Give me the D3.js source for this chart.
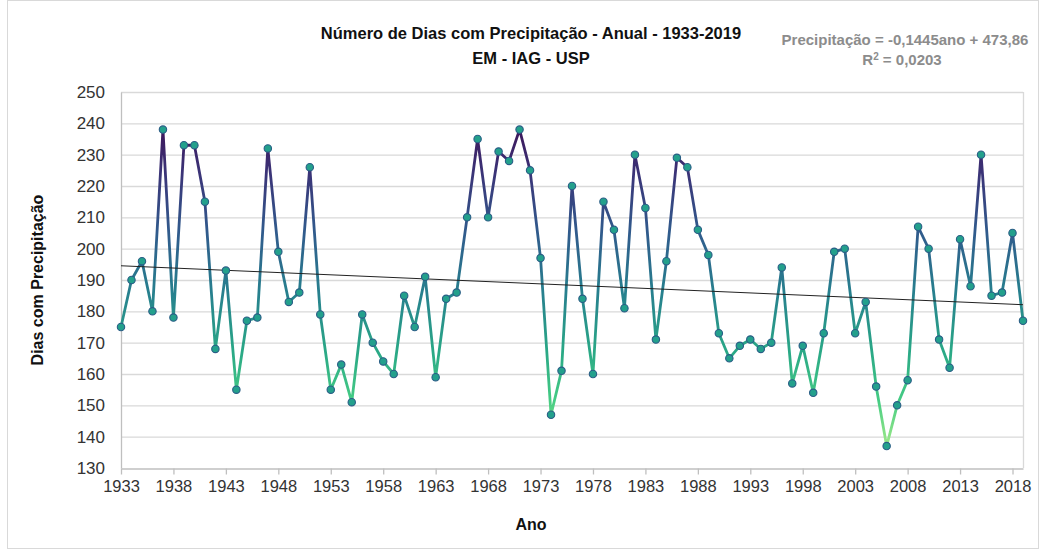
<!DOCTYPE html>
<html>
<head>
<meta charset="utf-8">
<script src="https://cdn.jsdelivr.net/npm/d3@7.9.0/dist/d3.min.js"></script>
<style>
  body { margin: 0; background: #fff; }
  svg { display: block; font-family: "Liberation Sans", Arial, sans-serif; }
</style>
</head>
<body>
<svg id="chart" width="1043" height="552"></svg>
<script>
// ---- data ----
const years = d3.range(1933, 2020);
const rainDays = [
  175, 190, 196, 180, 238, 178, 233, 233, 215, 168,
  193, 155, 177, 178, 232, 199, 183, 186, 226, 179,
  155, 163, 151, 179, 170, 164, 160, 185, 175, 191,
  159, 184, 186, 210, 235, 210, 231, 228, 238, 225,
  197, 147, 161, 220, 184, 160, 215, 206, 181, 230,
  213, 171, 196, 229, 226, 206, 198, 173, 165, 169,
  171, 168, 170, 194, 157, 169, 154, 173, 199, 200,
  173, 183, 156, 137, 150, 158, 207, 200, 171, 162,
  203, 188, 230, 185, 186, 205, 177
];
const xTickYears = [1933, 1938, 1943, 1948, 1953, 1958, 1963, 1968, 1973, 1978, 1983, 1988, 1993, 1998, 2003, 2008, 2013, 2018];
const yTickValues = [130, 140, 150, 160, 170, 180, 190, 200, 210, 220, 230, 240, 250];
// trend line given in the chart: y = -0.1445*ano + 473.86
const trendSlope = -0.1445;
const trendIntercept = 473.86;

const data = years.map((y, i) => ({ year: y, value: rainDays[i] }));

const svg = d3.select("#chart");
const margin = { left: 121, right: 20, top: 92, bottom: 84 };
const W = 1043, H = 552;

const x = d3.scaleLinear().domain([1933, 2019]).range([margin.left, W - margin.right]);
const y = d3.scaleLinear().domain([130, 250]).range([H - margin.bottom, margin.top]);

// chart outer border
svg.append("rect")
  .attr("x", 7.5).attr("y", 0.5)
  .attr("width", W - 12).attr("height", H - 4)
  .attr("fill", "none").attr("stroke", "#d9d9d9");

// gridlines
svg.append("g")
  .selectAll("line")
  .data(yTickValues.filter(v => v > 130))
  .join("line")
  .attr("x1", x(1933)).attr("x2", x(2019))
  .attr("y1", d => y(d) + 0.5).attr("y2", d => y(d) + 0.5)
  .attr("stroke", "#d9d9d9").attr("stroke-width", 1.3);

// right border of plot area
svg.append("line")
  .attr("x1", x(2019) + 0.5).attr("x2", x(2019) + 0.5)
  .attr("y1", y(250)).attr("y2", y(130))
  .attr("stroke", "#d9d9d9").attr("stroke-width", 1.3);

// y axis
const yAxis = svg.append("g")
  .attr("transform", `translate(${margin.left},0)`)
  .call(d3.axisLeft(y).tickValues(yTickValues).tickSize(0).tickPadding(16));
yAxis.select(".domain").attr("stroke", "#bfbfbf").attr("stroke-width", 1.3);
yAxis.selectAll("text").attr("font-size", 17).attr("fill", "#333");

// x axis
const xAxis = svg.append("g")
  .attr("transform", `translate(0,${y(130) + 0.5})`)
  .call(d3.axisBottom(x).tickValues(xTickYears).tickFormat(d3.format("d")).tickSize(6).tickPadding(6).tickSizeOuter(0));
xAxis.select(".domain").attr("stroke", "#bfbfbf").attr("stroke-width", 1.3);
xAxis.selectAll(".tick line").attr("stroke", "#bfbfbf").attr("stroke-width", 1.3);
xAxis.selectAll("text").attr("font-size", 16.5).attr("fill", "#333");

// gradient for the line (coloured by value)
const defs = svg.append("defs");
const grad = defs.append("linearGradient")
  .attr("id", "lineGrad")
  .attr("gradientUnits", "userSpaceOnUse")
  .attr("x1", 0).attr("x2", 0)
  .attr("y1", y(240)).attr("y2", y(136));
const stops = [
  [0.00, "#3d1357"],
  [0.15, "#3b3377"],
  [0.33, "#315a8c"],
  [0.52, "#27808e"],
  [0.70, "#2aa886"],
  [0.85, "#45cc84"],
  [1.00, "#a6ec88"]
];
grad.selectAll("stop").data(stops).join("stop")
  .attr("offset", d => d[0]).attr("stop-color", d => d[1]);

const line = d3.line().x(d => x(d.year)).y(d => y(d.value));

svg.append("path")
  .datum(data)
  .attr("d", line)
  .attr("fill", "none")
  .attr("stroke", "url(#lineGrad)")
  .attr("stroke-width", 2.8)
  .attr("stroke-linejoin", "round");

// trend line
svg.append("line")
  .attr("x1", x(1933)).attr("x2", x(2019))
  .attr("y1", y(trendSlope * 1933 + trendIntercept))
  .attr("y2", y(trendSlope * 2019 + trendIntercept))
  .attr("stroke", "#222").attr("stroke-width", 1);

// markers
svg.append("g")
  .selectAll("circle")
  .data(data)
  .join("circle")
  .attr("cx", d => x(d.year))
  .attr("cy", d => y(d.value))
  .attr("r", 3.7)
  .attr("fill", "#23a08c")
  .attr("stroke", "#2a5d86")
  .attr("stroke-width", 1.1);

// titles
svg.append("text")
  .attr("x", 531).attr("y", 39)
  .attr("text-anchor", "middle")
  .attr("font-size", 16.5).attr("font-weight", "bold").attr("fill", "#111")
  .text("Número de Dias com Precipitação - Anual - 1933-2019");
svg.append("text")
  .attr("x", 531).attr("y", 64)
  .attr("text-anchor", "middle")
  .attr("font-size", 16.5).attr("font-weight", "bold").attr("fill", "#111")
  .text("EM - IAG - USP");

// equation
svg.append("text")
  .attr("x", 905).attr("y", 45)
  .attr("text-anchor", "middle")
  .attr("font-size", 15).attr("font-weight", "bold").attr("fill", "#8c8c8c")
  .text("Precipitação = -0,1445ano + 473,86");
const r2 = svg.append("text")
  .attr("x", 902).attr("y", 65)
  .attr("text-anchor", "middle")
  .attr("font-size", 15).attr("font-weight", "bold").attr("fill", "#8c8c8c");
r2.append("tspan").text("R");
r2.append("tspan").attr("font-size", 10).attr("dy", -5).text("2");
r2.append("tspan").attr("dy", 5).text(" = 0,0203");

// axis titles
svg.append("text")
  .attr("x", 531).attr("y", 530)
  .attr("text-anchor", "middle")
  .attr("font-size", 16).attr("font-weight", "bold").attr("fill", "#111")
  .text("Ano");
svg.append("text")
  .attr("transform", `translate(43,${(y(130) + y(250)) / 2}) rotate(-90)`)
  .attr("text-anchor", "middle")
  .attr("font-size", 16).attr("font-weight", "bold").attr("fill", "#111")
  .text("Dias com Precipitação");
</script>
</body>
</html>
